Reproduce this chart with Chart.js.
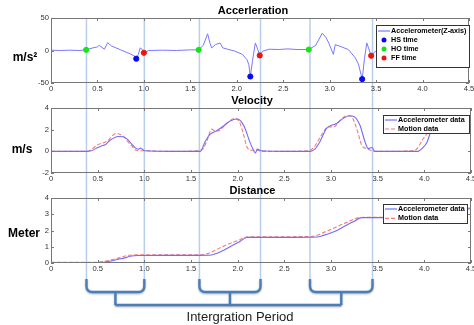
<!DOCTYPE html>
<html>
<head>
<meta charset="utf-8">
<script src="https://cdn.jsdelivr.net/npm/chart.js@4.4.0/dist/chart.umd.min.js"></script>
<style>
  body { margin: 0; background: #fff; }
  #wrap { position: relative; width: 474px; height: 325px; }
  #wrap canvas { position: absolute; left: 0; }
</style>
</head>
<body>
<div id="wrap">
  <canvas id="overlay" width="474" height="325" style="top:0"></canvas>
  <canvas id="graphAcc" width="474" height="95" style="top:0"></canvas>
  <canvas id="graphVel" width="474" height="90" style="top:95px"></canvas>
  <canvas id="graphDist" width="474" height="90" style="top:185px"></canvas>
</div>
<script>
// data (time in s)
const timeTicks = [0, 0.5, 1, 1.5, 2, 2.5, 3, 3.5, 4, 4.5];

const accTime = [0, 0.1, 0.2, 0.3, 0.378, 0.45, 0.5, 0.52, 0.575, 0.61, 0.65, 0.75, 0.85, 0.9, 0.918, 0.94, 0.96, 0.98, 1.0,
  1.05, 1.2, 1.35, 1.5, 1.59, 1.64, 1.686, 1.71, 1.73, 1.77, 1.82, 1.85, 1.9, 1.98, 2.06, 2.11, 2.13, 2.146, 2.17, 2.2, 2.225, 2.247,
  2.28, 2.35, 2.45, 2.55, 2.65, 2.775, 2.85, 2.92, 2.96, 2.99, 3.04, 3.06, 3.11, 3.2, 3.275, 3.31, 3.35, 3.375, 3.4, 3.447,
  3.5, 3.7, 3.9, 3.97, 4.05, 4.1, 4.2, 4.3, 4.4, 4.5];
const accValue = [0.5, 0, 0.5, 0, 1, 4, 5.6, 8, 2, 12, 7, 1, -5, -8.6, -12.6, -6, 4, 2, -3.5,
  0, 0.5, 0, 1, 1, 8, 25.8, 12, 4, 9, 11.6, 4, 2, -1, -6, -14, -22, -40, -15, 11.6, 2, -7.6,
  -1, 2, 1.5, 2.5, 1.5, 1.5, 8, 26.7, 20, 11.6, -6, 9, 6.6, 1.5, -11, -21, -44, -12, 11.6, -8,
  0, 0.5, 0, 3, 25, 12, 5, 0, -8, -18];

const hsTime = [0.918, 2.146, 3.35];
const hsValue = [-12.6, -40, -44];
const hoTime = [0.378, 1.59, 2.775];
const hoValue = [1, 1, 1.5];
const ffTime = [1.0, 2.247, 3.447];
const ffValue = [-3.5, -7.6, -8];

const velAccTime = [0, 0.38, 0.43, 0.48, 0.54, 0.58, 0.63, 0.72, 0.77, 0.82, 0.86, 0.915, 0.94, 0.96, 1.0, 1.3, 1.6,
  1.65, 1.7, 1.775, 1.85, 1.92, 1.99, 2.02, 2.05, 2.08, 2.13, 2.17, 2.19, 2.21, 2.25, 2.5, 2.78, 2.82, 2.88, 2.95, 2.99,
  3.06, 3.13, 3.2, 3.25, 3.31, 3.365, 3.4, 3.44, 3.47, 3.7, 3.93, 3.98, 4.03, 4.08, 4.15, 4.25, 4.35, 4.5];
const velAccValue = [0, 0, 0.05, 0.25, 0.5, 0.6, 1.0, 1.37, 1.35, 1.1, 0.72, 0.25, 0.2, 0.3, 0.05, 0, 0,
  0.87, 1.55, 1.9, 2.35, 2.8, 2.98, 2.9, 2.6, 2.1, 0.87, 0.1, -0.15, 0.2, 0.05, 0, 0, 0.15, 0.87, 2.1, 2.35,
  2.57, 3.04, 3.28, 3.2, 2.4, 0.87, 0.25, 0.35, 0, 0, 0, 0.3, 0.87, 2.1, 2.9, 3.2, 3.0, 2.5];

const velMotionTime = [0, 0.38, 0.42, 0.5, 0.6, 0.7, 0.73, 0.78, 0.825, 0.87, 0.9, 0.95, 1.0, 1.3, 1.55, 1.6, 1.63,
  1.68, 1.72, 1.76, 1.81, 1.88, 1.97, 2.02, 2.06, 2.1, 2.15, 2.22, 2.25, 2.5, 2.75, 2.78, 2.82, 2.87, 2.92, 2.97,
  3.03, 3.1, 3.17, 3.22, 3.275, 3.33, 3.38, 3.42, 3.45, 3.7, 3.85, 3.9, 3.99, 4.06, 4.12, 4.25, 4.35, 4.5];
const velMotionValue = [0, 0, 0.1, 0.6, 0.93, 1.65, 1.6, 1.35, 0.87, 0.45, 0.15, 0.05, 0.05, 0, 0.05, 0.1, 0.25,
  1.18, 2.05, 1.85, 1.95, 2.57, 3.04, 2.7, 1.65, 0.4, 0.1, 0.1, 0, 0, 0.05, 0.1, 0.4, 1.1, 1.8, 2.26,
  2.26, 2.88, 3.28, 3.2, 2.1, 0.56, 0.25, 0.1, 0, 0, 0.05, 0.1, 1.18, 2.0, 2.9, 3.1, 2.8, 2.3];

const distAccTime = [0, 0.5, 0.525, 0.6, 0.7, 0.8, 0.85, 0.95, 1.2, 1.5, 1.7, 1.78, 1.85, 1.92, 2.02, 2.1, 2.3, 2.6,
  2.85, 2.92, 2.99, 3.08, 3.17, 3.25, 3.33, 3.5, 3.95, 4.1, 4.3, 4.5];
const distAccValue = [0, 0, 0.01, 0.07, 0.2, 0.33, 0.42, 0.46, 0.47, 0.47, 0.48, 0.6, 0.78, 1.0, 1.31, 1.58, 1.58, 1.58,
  1.6, 1.7, 1.83, 2.05, 2.34, 2.57, 2.79, 2.79, 2.79, 2.9, 3.15, 3.35];

const distMotionTime = [0, 0.45, 0.5, 0.6, 0.7, 0.815, 0.9, 1.2, 1.5, 1.6, 1.7, 1.8, 1.9, 2.02, 2.06, 2.2, 2.6, 2.8,
  2.93, 3.05, 3.17, 3.31, 3.5, 3.9, 4.1, 4.3, 4.5];
const distMotionValue = [0.04, 0.04, 0.05, 0.13, 0.27, 0.46, 0.5, 0.5, 0.5, 0.5, 0.62, 0.9, 1.17, 1.42, 1.55, 1.62, 1.62, 1.64,
  1.9, 2.2, 2.5, 2.8, 2.82, 2.82, 2.95, 3.2, 3.4];

// integration windows (HO -> FF)
const periodLines = [0.38, 1.0, 1.59, 2.245, 2.775, 3.445];
const periodLabel = 'Intergration Period';

const FONT = '"Liberation Sans", Arial, sans-serif';
Chart.defaults.font.family = FONT;
Chart.defaults.font.size = 7.6;
Chart.defaults.color = '#333';

function pts(xs, ys) {
  return xs.map((x, i) => ({ x: x, y: ys[i] }));
}

// matlab-ish frame, inside ticks, title, y label and boxed legend
const matlabFrame = {
  id: 'matlabFrame',
  afterDatasetsDraw(chart, args, opts) {
    const ctx = chart.ctx;
    const a = chart.chartArea;
    const sx = chart.scales.x, sy = chart.scales.y;
    ctx.save();
    ctx.strokeStyle = '#777';
    ctx.lineWidth = 1;
    ctx.strokeRect(a.left + 0.5, a.top + 0.5, a.right - a.left - 1, a.bottom - a.top - 1);
    ctx.beginPath();
    sx.ticks.forEach(t => {
      const px = Math.round(sx.getPixelForValue(t.value)) + 0.5;
      ctx.moveTo(px, a.top); ctx.lineTo(px, a.top + 3);
      ctx.moveTo(px, a.bottom); ctx.lineTo(px, a.bottom - 3);
    });
    sy.ticks.forEach(t => {
      const py = Math.round(sy.getPixelForValue(t.value)) + 0.5;
      ctx.moveTo(a.left, py); ctx.lineTo(a.left + 3, py);
      ctx.moveTo(a.right, py); ctx.lineTo(a.right - 3, py);
    });
    ctx.stroke();

    ctx.fillStyle = '#000';
    ctx.textAlign = 'center';
    ctx.textBaseline = 'middle';
    ctx.font = 'bold 11px ' + FONT;
    ctx.fillText(opts.title, opts.titleX, opts.titleY);
    ctx.font = 'bold 12px ' + FONT;
    ctx.fillText(opts.yLabel, opts.yLabelX, opts.yLabelY);

    // legend box
    const lg = opts.legend;
    ctx.fillStyle = '#fff';
    ctx.fillRect(lg.x, lg.y, lg.w, lg.h);
    ctx.strokeStyle = '#333';
    ctx.strokeRect(lg.x + 0.5, lg.y + 0.5, lg.w, lg.h);
    ctx.font = 'bold 7.2px ' + FONT;
    ctx.textAlign = 'left';
    chart.data.datasets.forEach((ds, i) => {
      const y = lg.y + lg.first + i * lg.step;
      if (ds.showLine === false) {
        ctx.fillStyle = ds.pointBackgroundColor;
        ctx.beginPath();
        ctx.arc(lg.x + 8, y, 2.5, 0, Math.PI * 2);
        ctx.fill();
      } else {
        ctx.strokeStyle = ds.borderColor;
        ctx.lineWidth = 1.2;
        ctx.setLineDash(ds.borderDash || []);
        ctx.beginPath();
        ctx.moveTo(lg.x + 2, y); ctx.lineTo(lg.x + lg.sample, y);
        ctx.stroke();
        ctx.setLineDash([]);
      }
      ctx.fillStyle = '#000';
      ctx.fillText(ds.label, lg.x + lg.sample + 1, y);
    });
    ctx.restore();
  }
};

function makeOptions(yMin, yMax, yStep, padTop, frame) {
  return {
    responsive: false,
    animation: false,
    devicePixelRatio: 1,
    layout: { padding: { left: 0, right: 3, top: padTop, bottom: 0 } },
    plugins: {
      legend: { display: false },
      tooltip: { enabled: false },
      matlabFrame: frame
    },
    scales: {
      x: {
        type: 'linear',
        min: 0, max: 4.5,
        grid: { display: false, drawTicks: false },
        border: { display: false },
        ticks: { padding: 1, maxRotation: 0, autoSkip: false },
        afterBuildTicks: s => { s.ticks = timeTicks.map(v => ({ value: v })); },
        afterFit: s => { s.height = 12; s.paddingLeft = 0; s.paddingRight = 0; }
      },
      y: {
        min: yMin, max: yMax,
        grid: { display: false, drawTicks: false },
        border: { display: false },
        ticks: { stepSize: yStep, padding: 2 },
        afterFit: s => { s.width = 51; s.paddingTop = 0; s.paddingBottom = 0; }
      }
    }
  };
}

function dotSet(label, color, xs, ys) {
  return {
    label: label, data: pts(xs, ys), showLine: false,
    pointRadius: 2.6, pointBackgroundColor: color, pointBorderColor: color, order: 0
  };
}

new Chart(document.getElementById('graphAcc'), {
  type: 'line',
  data: {
    datasets: [
      { label: 'Accelerometer(Z-axis)', data: pts(accTime, accValue), borderColor: 'rgb(120,120,255)',
        borderWidth: 1, pointRadius: 0, order: 2 },
      dotSet('HS time', 'rgb(10,10,240)', hsTime, hsValue),
      dotSet('HO time', 'rgb(20,230,20)', hoTime, hoValue),
      dotSet('FF time', 'rgb(235,20,20)', ffTime, ffValue)
    ]
  },
  options: makeOptions(-50, 50, 50, 18, {
    title: 'Accerleration', titleX: 253, titleY: 11,
    yLabel: 'm/s\u00b2', yLabelX: 25, yLabelY: 58,
    legend: { x: 376, y: 25, w: 93, h: 42, first: 6, step: 9, sample: 14 }
  }),
  plugins: [matlabFrame]
});

const velChart = new Chart(document.getElementById('graphVel'), {
  type: 'line',
  data: {
    datasets: [
      { label: 'Accelerometer data', data: pts(velAccTime, velAccValue), borderColor: 'rgb(110,110,250)',
        borderWidth: 1.1, pointRadius: 0, cubicInterpolationMode: 'monotone' },
      { label: 'Motion data', data: pts(velMotionTime, velMotionValue), borderColor: 'rgb(255,120,120)',
        borderWidth: 1.1, borderDash: [4, 2], pointRadius: 0, cubicInterpolationMode: 'monotone' }
    ]
  },
  options: makeOptions(-2, 4, 2, 13, {
    title: 'Velocity', titleX: 252, titleY: 6,
    yLabel: 'm/s', yLabelX: 22, yLabelY: 55,
    legend: { x: 383, y: 20, w: 86, h: 18, first: 5, step: 9, sample: 14 }
  }),
  plugins: [matlabFrame]
});

const distChart = new Chart(document.getElementById('graphDist'), {
  type: 'line',
  data: {
    datasets: [
      { label: 'Accelerometer data', data: pts(distAccTime, distAccValue), borderColor: 'rgb(110,110,250)',
        borderWidth: 1.1, pointRadius: 0, cubicInterpolationMode: 'monotone' },
      { label: 'Motion data', data: pts(distMotionTime, distMotionValue), borderColor: 'rgb(255,120,120)',
        borderWidth: 1.1, borderDash: [4, 2], pointRadius: 0, cubicInterpolationMode: 'monotone' }
    ]
  },
  options: makeOptions(0, 4, 1, 13, {
    title: 'Distance', titleX: 252.5, titleY: 6,
    yLabel: 'Meter', yLabelX: 24, yLabelY: 49,
    legend: { x: 383, y: 19, w: 84, h: 19, first: 5, step: 9.4, sample: 14 }
  }),
  plugins: [matlabFrame]
});

// vertical period lines + brackets, behind the charts
const ov = document.getElementById('overlay').getContext('2d');
const sx = distChart.scales.x;
const xs = periodLines.map(v => sx.getPixelForValue(v));
ov.strokeStyle = 'rgba(160,190,228,0.75)';
ov.lineWidth = 1.5;
xs.forEach(px => {
  ov.beginPath();
  ov.moveTo(px, 18); ov.lineTo(px, 280);
  ov.stroke();
});

ov.save();
ov.strokeStyle = 'rgb(74,126,187)';
ov.lineWidth = 2.4;
ov.shadowColor = 'rgba(0,0,0,0.3)';
ov.shadowBlur = 2;
ov.shadowOffsetY = 1;
const topY = 279, baseY = 292, joinY = 305, r = 6;
const centers = [];
for (let i = 0; i < xs.length; i += 2) {
  const l = xs[i], rr = xs[i + 1];
  const c = (l + rr) / 2;
  centers.push(c);
  ov.beginPath();
  ov.moveTo(l, topY);
  ov.lineTo(l, baseY - r);
  ov.quadraticCurveTo(l, baseY, l + r, baseY);
  ov.lineTo(rr - r, baseY);
  ov.quadraticCurveTo(rr, baseY, rr, baseY - r);
  ov.lineTo(rr, topY);
  ov.moveTo(c, baseY);
  ov.lineTo(c, joinY);
  ov.stroke();
}
ov.beginPath();
ov.moveTo(centers[0], joinY);
ov.lineTo(centers[centers.length - 1], joinY);
ov.stroke();
ov.restore();

ov.fillStyle = '#222';
ov.font = '13px ' + FONT;
ov.textAlign = 'center';
ov.textBaseline = 'middle';
ov.fillText(periodLabel, 240, 317);
</script>
</body>
</html>
